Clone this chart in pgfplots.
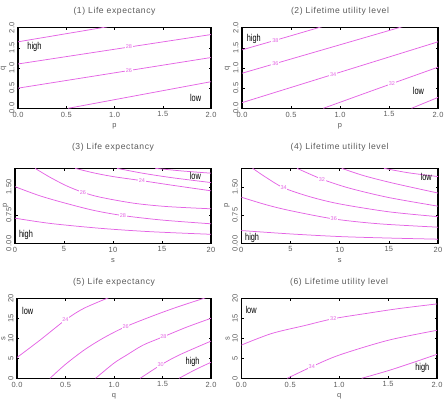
\documentclass[border=0pt]{standalone}
\usepackage{fontspec}
\setmainfont{Liberation Sans}
\newfontfamily\titlefont{Liberation Sans}[LetterSpace=7]
\newfontfamily\tickfont{Liberation Sans}[LetterSpace=4]
\usepackage{pgfplots}
\pgfplotsset{compat=1.18}

\definecolor{contour}{RGB}{228,100,228}
\definecolor{txt}{RGB}{90,90,90}

\pgfplotsset{
  panel/.style={
    scale only axis,
    axis line style={black, line width=1.1bp},
    tick align=inside,
    major tick length=2.5bp,
    tick style={black, line width=0.5bp},
    /pgf/number format/assume math mode=true,
    every tick label/.append style={font=\tickfont\fontsize{7.5}{8}\selectfont, text=txt},
    yticklabel style={rotate=90, anchor=south},
    title style={font=\titlefont\fontsize{8.6}{9}\selectfont, text=txt},
    every axis x label/.append style={font=\fontsize{7.5}{8}\selectfont, text=txt},
    every axis y label/.append style={font=\fontsize{7.5}{8}\selectfont, text=txt},
    ylabel shift=-4bp,
    clip=true,
  },
  onedec x/.style={xticklabel style={/pgf/number format/.cd, fixed, fixed zerofill, precision=1}},
  onedec y/.style={yticklabel style={/pgf/number format/.cd, fixed, fixed zerofill, precision=1}},
  twodec y/.style={yticklabel style={/pgf/number format/.cd, fixed, fixed zerofill, precision=2}},
}
\tikzset{
  cline/.style={no marks, smooth, color=contour, line width=0.75bp},
  clab/.style={font=\fontsize{5.5}{6}\selectfont, text=contour, fill=white, inner sep=0.8bp},
  hl/.style={font=\fontsize{10}{11}\selectfont, text=black, inner sep=0pt},
}
\newcommand{\hltext}[1]{\scalebox{0.74}[1]{#1}}

\begin{document}
\begin{tikzpicture}
\useasboundingbox (0,0) rectangle (444bp,-414bp);

% (1) life expectancy over (p,q)
\begin{axis}[panel, at={(18bp,-108.3bp)}, anchor=south west,
  width=193bp, height=80.6bp, xmin=0, xmax=2, ymin=0, ymax=2,
  xtick={0,0.5,1,1.5,2}, ytick={0,0.5,1,1.5,2}, onedec x, onedec y,
  title style={yshift=3bp},
  xlabel={p}, ylabel={q}, title={(1) Life expectancy}]
\addplot[cline] coordinates {(0,1.65) (0.87,2.0) (1.0,2.05)};
\addplot[cline] coordinates {(0,1.10) (1.0,1.465) (2,1.83)};
\addplot[cline] coordinates {(0,0.50) (1.0,0.88) (2,1.26)};
\addplot[cline] coordinates {(0.52,0) (1.26,0.33) (2,0.66)};
\node[clab] at (axis cs:1.15,1.52) {28};
\node[clab] at (axis cs:1.15,0.937) {26};
\node[hl] at (axis cs:0.17,1.53) {\hltext{high}};
\node[hl] at (axis cs:1.84,0.25) {\hltext{low}};
\end{axis}

% (2) lifetime utility over (p,q)
\begin{axis}[panel, at={(242bp,-108.3bp)}, anchor=south west,
  width=196bp, height=80.6bp, xmin=0, xmax=2, ymin=0, ymax=2,
  xtick={0,0.5,1,1.5,2}, ytick={0,0.5,1,1.5,2}, onedec x, onedec y,
  title style={yshift=3bp},
  xlabel={p}, ylabel={q}, title={(2) Lifetime utility level}]
\addplot[cline] coordinates {(0,1.45) (0.4,1.73) (0.85,2.05)};
\addplot[cline] coordinates {(0,0.87) (0.8,1.435) (1.65,2.035)};
\addplot[cline] coordinates {(0,0.14) (1.0,0.895) (2,1.65)};
\addplot[cline] coordinates {(0.83,0) (1.4,0.50) (2,1.02)};
\addplot[cline] coordinates {(1.73,0) (2,0.27)};
\node[clab] at (axis cs:0.34,1.69) {38};
\node[clab] at (axis cs:0.34,1.11) {36};
\node[clab] at (axis cs:0.93,0.84) {34};
\node[clab] at (axis cs:1.53,0.61) {32};
\node[hl] at (axis cs:0.12,1.72) {\hltext{high}};
\node[hl] at (axis cs:1.80,0.44) {\hltext{low}};
\end{axis}

% (3) life expectancy over (s,p)
\begin{axis}[panel, at={(15bp,-243.3bp)}, anchor=south west,
  width=196bp, height=75bp, xmin=0, xmax=20, ymin=0, ymax=2,
  xtick={0,5,10,15,20}, ytick={0,0.75,1.5}, twodec y,
  title style={yshift=8bp}, ylabel shift=-9bp,
  xlabel={s}, ylabel={p}, title={(3) Life expectancy}]
\addplot[cline] coordinates {(14.3,2.0) (17,1.93) (20,1.87)};
\addplot[cline] coordinates {(10.4,2.0) (13,1.87) (16,1.75) (20,1.62)};
\addplot[cline] coordinates {(6.13,2.0) (8,1.88) (10,1.78) (12.95,1.67) (16,1.55) (20,1.40)};
\addplot[cline] coordinates {(2.04,2.0) (3.58,1.76) (5.28,1.53) (6.92,1.36) (8.69,1.23) (12.1,1.07) (15.5,0.98) (20,0.92)};
\addplot[cline] coordinates {(0,1.51) (2.5,1.27) (5,1.08) (8,0.88) (11,0.74) (15,0.62) (20,0.52)};
\addplot[cline] coordinates {(0,0.67) (3.6,0.53) (8.7,0.40) (13.8,0.31) (20,0.24)};
\node[clab] at (axis cs:12.95,1.67) {24};
\node[clab] at (axis cs:6.92,1.36) {26};
\node[clab] at (axis cs:11,0.74) {28};
\node[hl] at (axis cs:18.4,1.80) {\hltext{low}};
\node[hl] at (axis cs:1.12,0.22) {\hltext{high}};
\end{axis}

% (4) lifetime utility over (s,p)
\begin{axis}[panel, at={(241.3bp,-243.3bp)}, anchor=south west,
  width=196.7bp, height=75bp, xmin=0, xmax=20, ymin=0, ymax=2,
  xtick={0,5,10,15,20}, ytick={0,0.75,1.5}, twodec y,
  title style={yshift=8bp},
  xlabel={s}, ylabel={p}, title={(4) Lifetime utility level}]
\addplot[cline] coordinates {(14.5,2.0) (17,1.88) (20,1.78)};
\addplot[cline] coordinates {(10.2,2.0) (12.5,1.8) (15.5,1.6) (20,1.34)};
\addplot[cline] coordinates {(5.66,2.0) (8.2,1.71) (11,1.47) (15,1.22) (20,0.99)};
\addplot[cline] coordinates {(1.15,2.0) (2.5,1.76) (4.3,1.48) (7,1.24) (10,1.05) (15,0.84) (20,0.71)};
\addplot[cline] coordinates {(0,1.23) (2.5,1.03) (5,0.87) (9.4,0.65) (14,0.52) (20,0.43)};
\addplot[cline] coordinates {(0,0.34) (5,0.25) (10,0.18) (15,0.14) (20,0.11)};
\node[clab] at (axis cs:8.2,1.71) {32};
\node[clab] at (axis cs:4.3,1.48) {34};
\node[clab] at (axis cs:9.4,0.65) {36};
\node[hl] at (axis cs:18.8,1.78) {\hltext{low}};
\node[hl] at (axis cs:1.1,0.15) {\hltext{high}};
\end{axis}

% (5) life expectancy over (q,s)
\begin{axis}[panel, at={(17bp,-378.3bp)}, anchor=south west,
  width=194bp, height=80bp, xmin=0, xmax=2, ymin=0, ymax=20,
  xtick={0,0.5,1,1.5,2}, ytick={0,5,10,15,20}, onedec x,
  title style={yshift=3bp},
  xlabel={q}, ylabel={s}, title={(5) Life expectancy}]
\addplot[cline] coordinates {(0,5.2) (0.24,9.6) (0.5,14.6) (0.69,17.5) (0.96,20.3)};
\addplot[cline] coordinates {(0.34,0) (0.5,3.5) (0.7,7.2) (0.9,10.2) (1.12,12.9) (1.4,15.6) (1.65,17.8) (1.94,20.1)};
\addplot[cline] coordinates {(0.81,0) (1.0,3.8) (1.13,5.8) (1.3,8.3) (1.51,10.4) (1.75,12.8) (2.0,15.0)};
\addplot[cline] coordinates {(1.27,0) (1.48,3.3) (1.67,5.8) (2.0,9.3)};
\addplot[cline] coordinates {(1.67,0) (1.85,2.3) (2.0,4.0)};
\node[clab] at (axis cs:0.5,14.6) {24};
\node[clab] at (axis cs:1.12,12.9) {26};
\node[clab] at (axis cs:1.51,10.4) {28};
\node[clab] at (axis cs:1.48,3.3) {30};
\node[hl] at (axis cs:0.11,16.8) {\hltext{low}};
\node[hl] at (axis cs:1.81,4.0) {\hltext{high}};
\end{axis}

% (6) lifetime utility over (q,s)
\begin{axis}[panel, at={(241.3bp,-378.3bp)}, anchor=south west,
  width=195.7bp, height=80bp, xmin=0, xmax=2, ymin=0, ymax=20,
  xtick={0,0.5,1,1.5,2}, ytick={0,5,10,15,20}, onedec x,
  title style={yshift=3bp},
  xlabel={q}, ylabel={s}, title={(6) Lifetime utility level}]
\addplot[cline] coordinates {(0,8.3) (0.31,11.2) (0.65,13.2) (0.94,14.9) (1.3,16.3) (1.6,17.4) (2.0,18.6)};
\addplot[cline] coordinates {(0.47,0) (0.72,2.9) (1.0,5.8) (1.5,9.5) (2.0,12.0)};
\addplot[cline] coordinates {(1.23,0) (1.5,1.9) (1.75,3.9) (2.0,6.0)};
\node[clab] at (axis cs:0.94,14.9) {32};
\node[clab] at (axis cs:0.72,2.9) {34};
\node[hl] at (axis cs:0.10,17.2) {\hltext{low}};
\node[hl] at (axis cs:1.85,2.5) {\hltext{high}};
\end{axis}
\end{tikzpicture}
\end{document}
